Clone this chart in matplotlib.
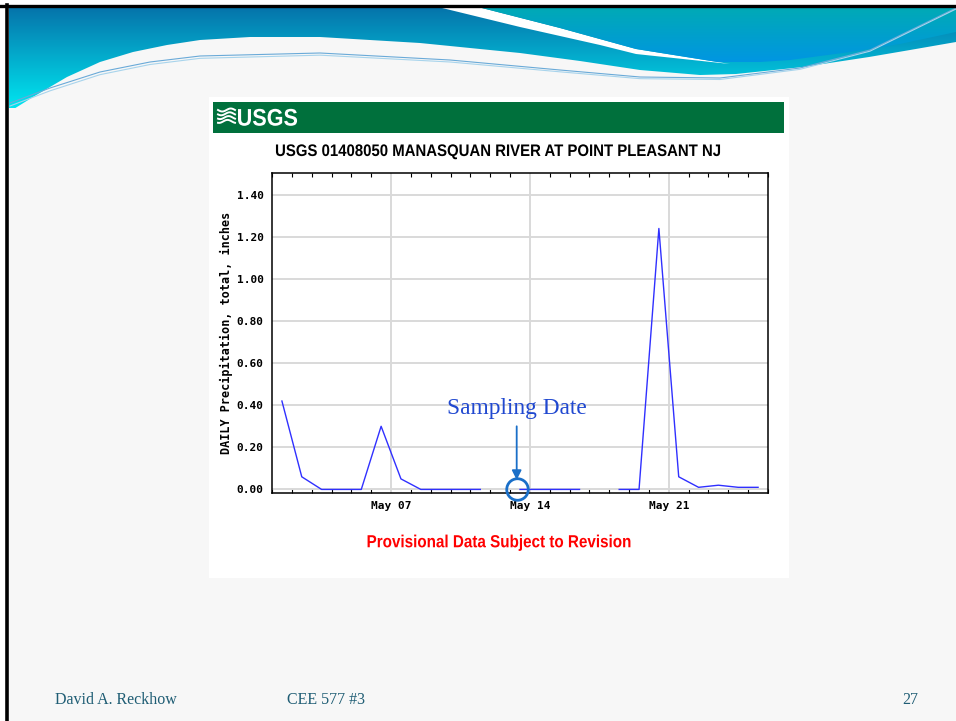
import numpy as np
import pandas as pd
import matplotlib
matplotlib.use('Agg')
import matplotlib.pyplot as plt
import matplotlib.dates as mdates
import matplotlib.transforms as mtransforms
from matplotlib.patches import Polygon, Rectangle, PathPatch
from matplotlib.colors import LinearSegmentedColormap
from matplotlib.textpath import TextPath
from matplotlib.font_manager import FontProperties

# daily precipitation at 01408050, May (nan = no record that day)
days = pd.date_range('2010-05-01', '2010-05-25', freq='D')
precip = [0.42, 0.06, 0.00, 0.00, 0.00, 0.30, 0.05, 0.00, 0.00, 0.00, 0.00, np.nan,
          0.00, 0.00, 0.00, 0.00, np.nan, 0.00, 0.00, 1.24, 0.06, 0.01, 0.02, 0.01, 0.01]
y_ticks = [0.0, 0.2, 0.4, 0.6, 0.8, 1.0, 1.2, 1.4]
week_ticks = pd.to_datetime(['2010-05-07', '2010-05-14', '2010-05-21'])
sampling_date = pd.Timestamp('2010-05-13 08:00')

mono = ['DejaVu Sans Mono']
serif = ['Liberation Serif', 'DejaVu Serif']

fig = plt.figure(figsize=(9.56, 7.21), dpi=100, facecolor='white')

# slide background, one data unit = one pixel, y pointing down
bg = fig.add_axes([0, 0, 1, 1])
bg.set_xlim(0, 956)
bg.set_ylim(721, 0)
bg.axis('off')
bg.add_patch(Rectangle((7, 5), 949, 716, fc='#f7f7f7', ec='none', zorder=0))


def grad_fill(pts, c_top, c_bot, y0, y1, z):
    poly = Polygon(pts, closed=True, fc='none', ec='none', zorder=z)
    bg.add_patch(poly)
    cmap = LinearSegmentedColormap.from_list('g', [c_top, c_bot])
    im = bg.imshow(np.linspace(0, 1, 256).reshape(-1, 1), cmap=cmap,
                   extent=(0, 956, y1, y0), aspect='auto', zorder=z)
    im.set_clip_path(poly)


def narrow_text(x, y, s, size, color, sx=0.88, ha='center', z=3):
    # condensed bold sans: squeeze the glyph outlines horizontally
    fp = FontProperties(family='Liberation Sans', weight='bold')
    tp = TextPath((0, 0), s, size=size, prop=fp)
    bb = tp.get_extents()
    x0 = bb.x0 + bb.width / 2 if ha == 'center' else bb.x0
    tr = (mtransforms.Affine2D().translate(-x0, -0.358 * size)
          .scale(sx, -1).translate(x, y))
    bg.add_patch(PathPatch(tr.transform_path(tp), fc=color, ec='none', zorder=z))


# header swoosh
lower_edge = [(956, 42), (910, 50), (869, 57), (803, 67), (736, 74), (700, 75),
              (640, 70), (580, 61), (520, 53), (420, 43), (320, 37), (250, 37),
              (200, 40), (167, 45), (133, 52), (100, 62), (67, 77), (33, 97), (9, 112)]
grad_fill([(9, 7), (956, 7)] + lower_edge, '#0673aa', '#00e6f0', 7, 108, 1)
bg.add_patch(Polygon([(438, 7), (478, 7), (560, 28), (636, 49), (730, 64),
                      (636, 54), (600, 45), (520, 27)],
                     closed=True, fc='white', ec='none', zorder=2))
grad_fill([(478, 7), (956, 7), (956, 32), (900, 44), (850, 52), (790, 60),
           (730, 64), (636, 49), (560, 28)], '#00aab5', '#0096e2', 7, 62, 3)

lx = np.array([10, 50, 100, 150, 200, 320, 450, 560, 640, 720, 800, 870, 956])
ly = np.array([103, 88, 72, 62, 56, 53, 60, 70, 77, 78, 68, 50, 8])
bg.plot(lx, ly, color='#6aaad8', lw=0.8, zorder=4)
bg.plot(lx, ly + np.linspace(3, 1, len(lx)), color='#a8d4ec', lw=0.8, zorder=4)

# slide border
bg.plot([0, 956], [5.5, 5.5], color='black', lw=2.4, zorder=5)
bg.plot([7, 7], [5, 721], color='black', lw=2.6, zorder=5)

# chart panel and USGS banner
bg.add_patch(Rectangle((209, 97), 580, 481, fc='white', ec='none', zorder=1))
bg.add_patch(Rectangle((213, 102), 571, 31, fc='#00703c', ec='none', zorder=2))
wx = np.linspace(218, 235, 30)
for k in range(4):
    bg.plot(wx, 110 + k * 3.8 + 1.5 * np.sin((wx - 218) / 17 * 2 * np.pi + k * 0.4),
            color='white', lw=1.4, zorder=3)
narrow_text(238, 117, 'USGS', 24, 'white', sx=0.9, ha='left')
narrow_text(498, 150, 'USGS 01408050 MANASQUAN RIVER AT POINT PLEASANT NJ',
            16.7, 'black', sx=0.895)
narrow_text(499, 541, 'Provisional Data Subject to Revision', 17.5, '#ff0000', sx=0.87)

# footer
for fx, s, ha in [(55, 'David A. Reckhow', 'left'), (287, 'CEE 577 #3', 'left'),
                  (918, '27', 'right')]:
    bg.text(fx, 700, s, family=serif, fontsize=11.5, color='#1f5d74',
            ha=ha, va='center')

# precipitation chart
ax = fig.add_axes([272 / 956, 1 - 493 / 721, (768 - 272) / 956, (493 - 172.7) / 721])
ax.set_facecolor('white')
ax.plot(days + pd.Timedelta(hours=12), precip, color='#3030ff', lw=1.0, zorder=3)

ax.set_xlim(pd.Timestamp('2010-05-01'), pd.Timestamp('2010-05-26'))
ax.set_ylim(-0.017, 1.505)
ax.set_yticks(y_ticks)
ax.set_yticklabels([f'{v:.2f}' for v in y_ticks])
ax.set_xticks(week_ticks)
ax.xaxis.set_major_formatter(mdates.DateFormatter('%b %d'))
ax.xaxis.set_minor_locator(mdates.DayLocator())
ax.grid(True, color='#d9d9d9', lw=1.4, zorder=0)
ax.set_axisbelow(True)
ax.tick_params(axis='both', which='major', length=0, labelsize=8)
ax.tick_params(axis='y', pad=6)
ax.tick_params(axis='x', pad=6)
ax.tick_params(axis='x', which='minor', direction='in', length=3, width=0.8,
               top=True, bottom=True)
for lab in ax.get_xticklabels() + ax.get_yticklabels():
    lab.set_family(mono)
    lab.set_weight('bold')
for sp in ax.spines.values():
    sp.set_linewidth(1.1)
ax.set_ylabel('DAILY Precipitation, total, inches', family=mono,
              weight='bold', fontsize=8.5)
ax.yaxis.set_label_coords(-0.079, 0.5)

# sampling date marker
ax.plot([sampling_date], [0.0], marker='o', ms=15.5, mfc='none', mec='#1a6fc8',
        mew=2.0, clip_on=False, zorder=5)
ax.annotate('', xy=(sampling_date, 0.045), xytext=(sampling_date, 0.30),
            arrowprops=dict(arrowstyle='-|>', color='#1a6fc8', lw=1.3,
                            mutation_scale=14, shrinkA=0, shrinkB=0))
ax.text(sampling_date, 0.385, 'Sampling Date', family=serif, fontsize=16.8,
        color='#2048d0', ha='center', va='center')

fig.savefig('out.png', dpi=100, facecolor='white')
